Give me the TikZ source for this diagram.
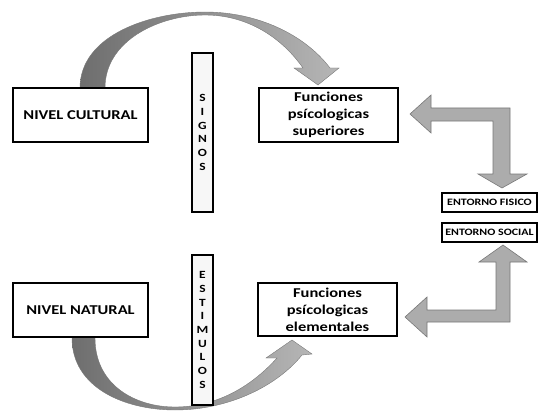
\documentclass[tikz,border=0pt]{standalone}
\usepackage{fontspec}
\setmainfont{Carlito}[FakeStretch=1.22]
\usetikzlibrary{positioning}
\definecolor{arrowdark}{RGB}{110,110,110}
\definecolor{arrowlight}{RGB}{182,182,182}
\definecolor{arrowfill}{RGB}{172,172,172}
\definecolor{arrowline}{RGB}{120,120,120}
\tikzstyle{block}=[draw,fill=white,rectangle,line width=2pt,align=center,inner sep=0pt]
\tikzstyle{bar}=[draw,fill=black!3,rectangle,line width=1.2pt,minimum width=21pt,align=center,inner sep=0pt,font=\bfseries\fontsize{11}{13.7}\selectfont]
\tikzstyle{tag}=[draw,fill=white,rectangle,line width=1.8pt,minimum width=95pt,minimum height=19pt,inner sep=0pt,font=\bfseries\fontsize{9.8}{10}\selectfont]
\tikzstyle{every node}=[font=\bfseries\fontsize{13.5}{17}\selectfont]

\begin{document}
\begin{tikzpicture}[x=1pt,y=-1pt]
  \useasboundingbox (0,0) rectangle (544,412);
  % curved arrows
  \draw[arrowline,line width=.4pt,left color=arrowdark,right color=arrowlight]
    (80,88) .. controls (80,35) and (150,12) .. (205,12)
    .. controls (258,12) and (305,35) .. (330,68) -- (339,68) -- (318,85) -- (294,68) -- (303,68)
    .. controls (282,38) and (248,15) .. (205,15)
    .. controls (160,15) and (105,40) .. (105,88) -- cycle;
  \draw[arrowline,line width=.4pt,left color=arrowdark,right color=arrowlight]
    (72,338) .. controls (72,388) and (125,410) .. (175,410)
    .. controls (230,410) and (278,385) .. (302,355) -- (312,354) -- (292,340) -- (266,358) -- (277,358)
    .. controls (250,388) and (215,407) .. (175,407)
    .. controls (135,407) and (95,385) .. (95,338) -- cycle;
  % L arrows
  \draw[arrowline,line width=.6pt,fill=arrowfill]
    (410,114) -- (431,95) -- (431,108) -- (510,108) -- (510,174) -- (527,174) -- (502,188)
    -- (478,174) -- (493,174) -- (493,121) -- (431,121) -- (431,133) -- cycle;
  \draw[arrowline,line width=.6pt,fill=arrowfill]
    (503,245) -- (527,262) -- (510,262) -- (510,322) -- (427,322) -- (427,337) -- (405,317)
    -- (427,297) -- (427,310) -- (496,310) -- (496,262) -- (479,262) -- cycle;
  % boxes
  \node[block, minimum width=135pt, minimum height=54pt] (cultural) at (80.5,115) {NIVEL CULTURAL};
  \node[block, minimum width=139pt, minimum height=54pt] (superior) at (328.5,115) {Funciones\\ psícologicas\\ superiores};
  \node[block, minimum width=135pt, minimum height=54pt] (natural) at (80.5,310) {NIVEL NATURAL};
  \node[block, minimum width=139pt, minimum height=53pt] (elemental) at (327.5,309.5) {Funciones\\ psícologicas\\ elementales};
  \node[bar, minimum height=159pt] (signos) at (202.5,132.5) {S\\ I\\ G\\ N\\ O\\ S};
  \node[bar, minimum height=150pt] (estimulos) at (202.5,330) {E\\ S\\ T\\ I\\ M\\ U\\ L\\ O\\ S};
  \node[tag] (fisico) at (489.5,202.5) {ENTORNO FISICO};
  \node[tag] (social) at (489.5,232.5) {ENTORNO SOCIAL};
\end{tikzpicture}
\end{document}
